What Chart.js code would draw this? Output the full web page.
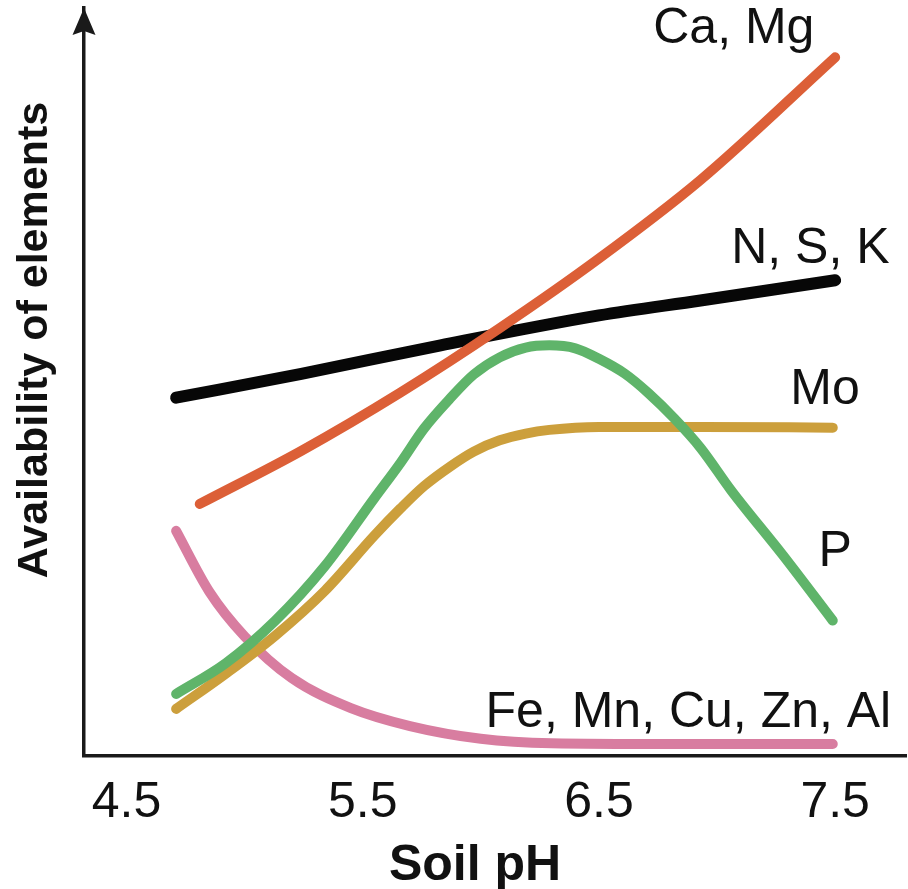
<!DOCTYPE html>
<html>
<head>
<meta charset="utf-8">
<title>Availability of elements vs soil pH</title>
<script src="https://cdn.jsdelivr.net/npm/chart.js@4.4.1/dist/chart.umd.min.js"></script>
<style>
  html, body { margin: 0; padding: 0; background: #fff; }
  canvas { display: block; }
</style>
</head>
<body>
<canvas id="phChart" width="908" height="889"></canvas>
<script>
// x axis tick labels (soil pH)
const phTicks = [4.5, 5.5, 6.5, 7.5];

// curves: pH positions and relative availability (0-100)
const caMgPh  = [4.81, 5.24, 5.66, 6.08, 6.50, 6.93, 7.50];
const caMgVal = [33.7, 40.8, 48.6, 57.2, 66.5, 77.0, 93.4];

const nskPh  = [4.71, 5.24, 5.83, 6.50, 6.93, 7.50];
const nskVal = [47.9, 51.1, 54.9, 58.9, 60.9, 63.6];

const pPh  = [4.71, 4.92, 5.13, 5.34, 5.55, 5.66, 5.76, 5.87, 5.97, 6.08, 6.19,
              6.29, 6.40, 6.50, 6.61, 6.71, 6.82, 6.93, 7.06, 7.28, 7.49];
const pVal = [8.3, 12.4, 18.1, 25.4, 34.5, 39.2, 43.8, 47.8, 51.0, 53.3, 54.6,
              54.9, 54.5, 53.1, 51.1, 48.5, 45.1, 41.2, 35.5, 26.8, 18.1];

const moPh  = [4.71, 4.92, 5.13, 5.34, 5.55, 5.66, 5.76, 5.87, 5.97, 6.08, 6.19, 6.29, 6.50, 6.93, 7.49];
const moVal = [6.3, 11.0, 16.1, 22.1, 29.5, 33.1, 36.1, 38.7, 40.7, 42.2, 43.1, 43.6, 44.0, 44.0, 43.9];

const fePh  = [4.71, 4.85, 5.00, 5.20, 5.45, 5.70, 6.00, 6.30, 6.80, 7.49];
const feVal = [30.1, 22.0, 16.0, 10.4, 6.4, 4.0, 2.3, 1.7, 1.6, 1.6];

const FONT = '"Liberation Sans", Arial, Helvetica, sans-serif';

function toPoints(xs, ys) {
    return xs.map((x, i) => ({ x: x, y: ys[i] }));
}

// curve names and where each is written: [pH, availability] of text start / baseline
const curveLabels = ['Ca, Mg', 'N, S, K', 'Mo', 'P', 'Fe, Mn, Cu, Zn, Al'];
const labelAt = [
    [6.73, 95.3],
    [7.06, 65.9],
    [7.31, 47.1],
    [7.43, 25.4],
    [6.02, 3.9]
];

const annotate = {
    id: 'annotate',
    afterDraw(chart) {
        const { ctx, chartArea, scales: { x, y } } = chart;
        ctx.save();
        ctx.fillStyle = '#1a1a1a';

        // arrow head on the y axis
        const ax = chartArea.left, top = chartArea.top;
        ctx.beginPath();
        ctx.moveTo(ax, top);
        ctx.lineTo(ax + 11.5, top + 27);
        ctx.lineTo(ax, top + 23);
        ctx.lineTo(ax - 11.5, top + 27);
        ctx.closePath();
        ctx.fill();

        // curve names
        ctx.fillStyle = '#111';
        ctx.font = '50px ' + FONT;
        ctx.textAlign = 'left';
        ctx.textBaseline = 'alphabetic';
        curveLabels.forEach((name, i) => {
            ctx.fillText(name, x.getPixelForValue(labelAt[i][0]), y.getPixelForValue(labelAt[i][1]));
        });

        // axis titles
        ctx.font = 'bold 50px ' + FONT;
        ctx.textAlign = 'center';
        ctx.fillText('Soil pH', 475, 880);

        ctx.translate(47, 340);
        ctx.rotate(-Math.PI / 2);
        ctx.font = 'bold 43px ' + FONT;
        ctx.fillText('Availability of elements', 0, 0);
        ctx.restore();
    }
};

const ctx = document.getElementById('phChart').getContext('2d');
const phChart = new Chart(ctx, {
    type: 'line',
    data: {
        datasets: [
            { label: 'Ca, Mg', data: toPoints(caMgPh, caMgVal), borderColor: '#dc5f37' },
            { label: 'N, S, K', data: toPoints(nskPh, nskVal), borderColor: '#070707', borderWidth: 12 },
            { label: 'P', data: toPoints(pPh, pVal), borderColor: '#5fb46a' },
            { label: 'Mo', data: toPoints(moPh, moVal), borderColor: '#cc9f3c' },
            { label: 'Fe, Mn, Cu, Zn, Al', data: toPoints(fePh, feVal), borderColor: '#d87da0' }
        ]
    },
    options: {
        responsive: false,
        animation: false,
        layout: {
            padding: { left: 84, right: 2, top: 8, bottom: 39 }
        },
        elements: {
            point: { radius: 0 },
            line: {
                borderWidth: 10,
                borderCapStyle: 'round',
                borderJoinStyle: 'round',
                cubicInterpolationMode: 'monotone',
                fill: false
            }
        },
        plugins: {
            legend: { display: false },
            tooltip: { enabled: false }
        },
        scales: {
            x: {
                type: 'linear',
                min: 4.32,
                max: 7.8,
                grid: { display: false, drawTicks: false },
                border: { display: true, color: '#1a1a1a', width: 3.5 },
                afterBuildTicks: (scale) => {
                    scale.ticks = phTicks.map(v => ({ value: v }));
                },
                ticks: {
                    padding: 17,
                    color: '#111',
                    font: { family: FONT, size: 50 },
                    callback: (v) => Number(v).toFixed(1)
                }
            },
            y: {
                min: 0,
                max: 100,
                grid: { display: false, drawTicks: false },
                border: { display: true, color: '#1a1a1a', width: 3.5 },
                ticks: { display: false }
            }
        }
    },
    plugins: [annotate]
});
</script>
</body>
</html>
